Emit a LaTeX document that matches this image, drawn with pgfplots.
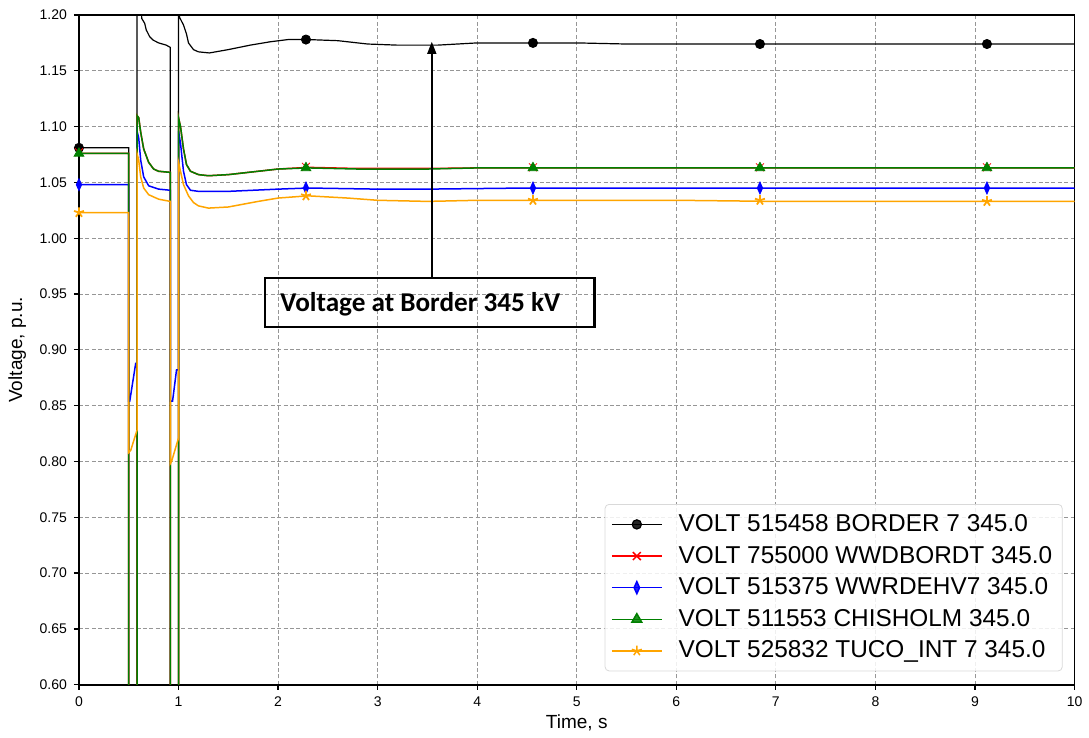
\documentclass[border=0pt]{standalone}
\usepackage{fontspec}
\setmainfont{Liberation Sans}
\newfontfamily\carlito{Carlito}
\usepackage{pgfplots}
\pgfplotsset{compat=1.18}
\usetikzlibrary{arrows.meta}
\definecolor{mplgreen}{RGB}{0,128,0}
\definecolor{mplorange}{RGB}{255,165,0}
\definecolor{gridgray}{RGB}{150,150,150}

\begin{document}
\begin{tikzpicture}
\begin{axis}[
  at={(0,0)}, anchor=south west,
  scale only axis,
  width=498pt, height=335pt,
  xmin=0, xmax=10, ymin=0.6, ymax=1.2,
  xtick={0,1,...,10},
  ytick={0.60,0.65,...,1.201},
  yticklabel style={/pgf/number format/.cd, fixed, fixed zerofill, precision=2},
  /pgf/number format/assume math mode=true,
  ticklabel style={font=\fontsize{7}{8}\selectfont},
  xlabel={Time, s}, ylabel={Voltage, p.u.},
  label style={font=\fontsize{9.5}{11}\selectfont},
  xlabel style={yshift=3pt},
  tick pos=left, tick align=outside,
  major tick length=2.5pt,
  tick style={black, line width=0.6pt},
  axis line style={black, line width=0.8pt},
  grid=major,
  grid style={gridgray, line width=0.5pt, dash pattern=on 2pt off 1.2pt},
  legend style={at={(0.988,0.02)}, anchor=south east,
    draw=black!15, rounded corners=2pt, fill=white, fill opacity=0.85,
    text opacity=1, font=\fontsize{12.2}{14}\selectfont,
    row sep=1.8pt, inner xsep=3pt, inner ysep=3pt,
    /tikz/every odd column/.append style={column sep=6pt}},
  legend cell align=left,
  legend image code/.code={\draw[mark repeat=2,mark phase=2,#1]
    plot coordinates {(0pt,0pt) (12.5pt,0pt) (25pt,0pt)};},
  mark size=2.3pt,
]
% BORDER 7
\addplot[black, line width=0.6pt, forget plot] coordinates {
  (0,1.081)(0.5,1.081)(0.5,0.5)(0.583,0.5)(0.583,1.25)(0.615,1.25)
  (0.63,1.197)(0.66,1.1925)(0.676,1.1866)(0.71,1.1806)(0.743,1.1776)
  (0.8,1.175)(0.877,1.173)(0.917,1.171)(0.917,0.5)(1.0,0.5)(1.0,1.25)
  (1.005,1.25)(1.01,1.198)(1.05,1.191)(1.065,1.187)(1.08,1.183)(1.1,1.175)
  (1.15,1.169)(1.2,1.167)(1.31,1.166)(1.5,1.169)(1.72,1.173)(1.92,1.176)
  (2.1,1.178)(2.3,1.178)(2.6,1.177)(2.9,1.174)(3.2,1.173)(3.6,1.173)
  (4.0,1.175)(4.5,1.175)(5.0,1.175)(5.5,1.174)(6.0,1.174)(7.0,1.174)
  (8.0,1.174)(9.0,1.174)(10,1.174)};
\addplot[black, only marks, mark=*, forget plot] coordinates {
  (0,1.081)(2.28,1.178)(4.56,1.175)(6.84,1.174)(9.12,1.174)};
% WWDBORDT
\addplot[red, line width=0.75pt, forget plot] coordinates {
  (0,1.076)(0.5,1.076)(0.5,0.5)(0.583,0.5)(0.583,1.11)(0.6,1.108)
  (0.62,1.095)(0.65,1.08)(0.7,1.068)(0.75,1.062)(0.8,1.06)(0.917,1.059)
  (0.917,0.5)(1.0,0.5)(1.0,1.108)(1.02,1.1)(1.05,1.08)(1.08,1.066)
  (1.12,1.06)(1.2,1.057)(1.3,1.056)(1.5,1.057)(1.8,1.06)(2.0,1.062)
  (2.3,1.0635)(2.8,1.0625)(3.5,1.0625)(4.0,1.063)(5.0,1.063)(7.0,1.063)(10,1.063)};
\addplot[red, only marks, mark=x, mark size=2.8pt, forget plot] coordinates {
  (0,1.077)(2.28,1.064)(4.56,1.0635)(6.84,1.0635)(9.12,1.0635)};
% WWRDEHV7
\addplot[blue, line width=0.75pt, forget plot] coordinates {
  (0,1.048)(0.5,1.048)(0.5,0.854)(0.51,0.854)(0.57,0.888)(0.583,0.888)
  (0.583,1.096)(0.6,1.09)(0.62,1.07)(0.65,1.055)(0.7,1.047)(0.8,1.044)
  (0.917,1.043)(0.917,0.854)(0.94,0.854)(0.98,0.882)(1.0,0.882)(1.0,1.096)
  (1.02,1.085)(1.05,1.06)(1.08,1.048)(1.12,1.043)(1.2,1.042)(1.5,1.042)
  (2.0,1.044)(2.3,1.045)(3.0,1.044)(3.5,1.044)(4.5,1.045)(6.0,1.045)(10,1.045)};
\addplot[blue, only marks, mark=diamond*, mark size=3pt, mark options={xscale=0.6}, forget plot] coordinates {
  (0,1.048)(2.28,1.045)(4.56,1.045)(6.84,1.045)(9.12,1.045)};
% CHISHOLM
\addplot[mplgreen, line width=0.75pt, forget plot] coordinates {
  (0,1.076)(0.5,1.076)(0.5,0.5)(0.583,0.5)(0.583,1.11)(0.6,1.108)
  (0.62,1.095)(0.65,1.08)(0.7,1.068)(0.75,1.062)(0.8,1.06)(0.917,1.059)
  (0.917,0.5)(1.0,0.5)(1.0,1.108)(1.02,1.1)(1.05,1.08)(1.08,1.066)
  (1.12,1.06)(1.2,1.057)(1.3,1.056)(1.5,1.057)(1.8,1.06)(2.0,1.062)
  (2.3,1.063)(2.8,1.062)(3.5,1.062)(4.0,1.063)(5.0,1.063)(7.0,1.063)(10,1.063)};
\addplot[mplgreen, only marks, mark=triangle*, mark size=2.8pt, forget plot] coordinates {
  (0,1.076)(2.28,1.063)(4.56,1.063)(6.84,1.063)(9.12,1.063)};
% TUCO_INT 7
\addplot[mplorange, line width=0.75pt, forget plot] coordinates {
  (0,1.023)(0.5,1.023)(0.5,0.808)(0.52,0.81)(0.583,0.828)(0.583,1.076)
  (0.6,1.07)(0.62,1.055)(0.65,1.045)(0.7,1.039)(0.8,1.035)(0.917,1.033)
  (0.917,0.798)(0.93,0.8)(1.0,0.821)(1.0,1.068)(1.02,1.06)(1.05,1.048)
  (1.1,1.038)(1.15,1.032)(1.2,1.029)(1.3,1.027)(1.5,1.028)(1.8,1.033)
  (2.0,1.036)(2.3,1.038)(2.7,1.036)(3.0,1.034)(3.5,1.033)(4.0,1.034)
  (4.5,1.034)(5.0,1.034)(6.0,1.034)(7.0,1.033)(10,1.033)};
\addplot[mplorange, only marks, mark=star, mark size=2.6pt, line width=0.9pt, forget plot] coordinates {
  (0,1.023)(2.28,1.038)(4.56,1.034)(6.84,1.034)(9.12,1.033)};

\addlegendimage{black, line width=0.6pt, mark=*}
\addlegendentry{VOLT 515458 BORDER 7 345.0}
\addlegendimage{red, line width=0.75pt, mark=x, mark size=2.8pt}
\addlegendentry{VOLT 755000 WWDBORDT 345.0}
\addlegendimage{blue, line width=0.75pt, mark=diamond*, mark size=3pt, mark options={xscale=0.6}}
\addlegendentry{VOLT 515375 WWRDEHV7 345.0}
\addlegendimage{mplgreen, line width=0.75pt, mark=triangle*, mark size=2.8pt}
\addlegendentry{VOLT 511553 CHISHOLM 345.0}
\addlegendimage{mplorange, line width=0.75pt, mark=star, mark size=2.6pt}
\addlegendentry{VOLT 525832 TUCO\_INT 7 345.0}

% annotation
\draw[black, line width=1.3pt] (axis cs:1.867,0.9206) rectangle (axis cs:5.18,0.9645);
\node[anchor=west, inner sep=0pt, font=\carlito\bfseries\fontsize{13.6}{15}\selectfont]
  at (axis cs:2.02,0.941) {Voltage at Border 345 kV};
\draw[black, line width=0.7pt, -{Triangle[length=6pt, width=4.5pt]}]
  (axis cs:3.544,0.9645) -- (axis cs:3.544,1.176);
\end{axis}
\path[use as bounding box] (-39.5pt,-23.5pt) rectangle (505pt,342.5pt);
\end{tikzpicture}
\end{document}
